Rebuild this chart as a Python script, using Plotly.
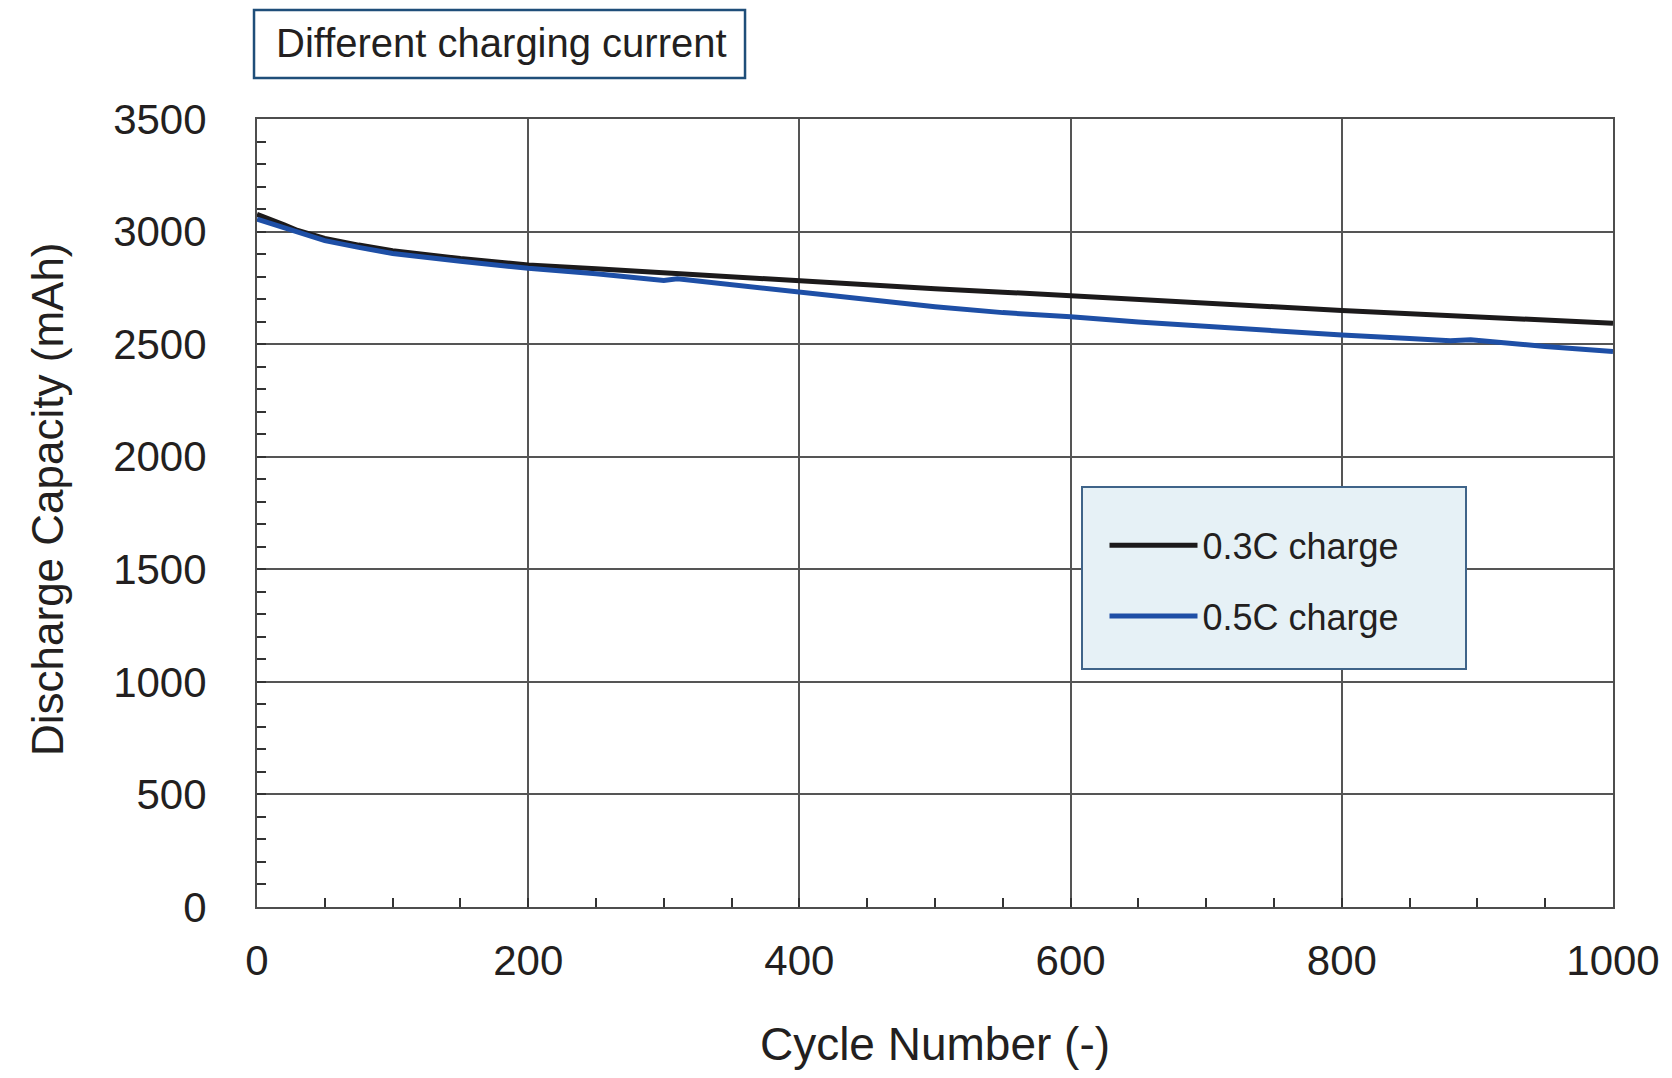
import plotly.graph_objects as go

cycles_03 = [0, 10, 20, 30, 50, 75, 100, 150, 200, 250, 300, 350, 400, 450, 500,
             550, 600, 650, 700, 750, 800, 850, 900, 950, 1000]
cap_03 = [3077, 3055, 3030, 3005, 2970, 2940, 2915, 2880, 2852, 2835, 2817, 2797, 2778,
          2762, 2746, 2731, 2716, 2700, 2683, 2666, 2649, 2634, 2619, 2606, 2593]

cycles_05 = [0, 10, 20, 30, 50, 75, 100, 150, 200, 250, 290, 300, 310, 350, 400, 450,
             500, 550, 600, 650, 700, 750, 800, 850, 880, 895, 920, 950, 1000]
cap_05 = [3055, 3035, 3015, 2995, 2960, 2930, 2903, 2868, 2837, 2813, 2790, 2783, 2790,
          2763, 2733, 2700, 2666, 2640, 2622, 2598, 2578, 2560, 2541, 2525, 2515, 2519,
          2505, 2490, 2467]

series_names = ["0.3C charge", "0.5C charge"]
x_ticks = [0, 200, 400, 600, 800, 1000]
y_ticks = [0, 500, 1000, 1500, 2000, 2500, 3000, 3500]

SANS = "Liberation Sans, Arial, sans-serif"
TEXT = "#231f20"
TICKFONT = dict(family=SANS, size=42, color=TEXT)

fig = go.Figure()
fig.add_trace(go.Scatter(x=cycles_03, y=cap_03, mode="lines", name=series_names[0],
                         legendgroup="a", line=dict(color="#1c1a1b", width=5)))
fig.add_trace(go.Scatter(x=cycles_05, y=cap_05, mode="lines", name=series_names[1],
                         legendgroup="b", line=dict(color="#1e4fa6", width=5)))

fig.update_layout(
    width=1664, height=1070,
    margin=dict(l=249, r=59, t=111, b=171),
    paper_bgcolor="white", plot_bgcolor="white",
    showlegend=True,
    legend=dict(
        x=0.625, y=0.497, xanchor="left", yanchor="top",
        bgcolor="rgba(0,0,0,0)", borderwidth=0,
        font=dict(family=SANS, size=36, color=TEXT),
        itemwidth=88, tracegroupgap=21,
    ),
    xaxis=dict(
        range=[0, 1000], tickvals=x_ticks, ticktext=[str(v) for v in x_ticks],
        showgrid=True, gridcolor="#555555", gridwidth=1.5,
        showline=True, linecolor="#4d4d4d", linewidth=2, mirror=True,
        ticks="inside", ticklen=9, tickwidth=2, tickcolor="#333333",
        minor=dict(dtick=50, ticks="inside", ticklen=9, tickwidth=2, tickcolor="#333333", showgrid=False),
        tickfont=TICKFONT, ticklabelstandoff=16,
        zeroline=False, automargin=False,
        title=dict(text="Cycle Number (-)", font=dict(family=SANS, size=46, color=TEXT), standoff=44),
    ),
    yaxis=dict(
        range=[0, 3500], tickvals=y_ticks, ticktext=[str(v) for v in y_ticks],
        showgrid=True, gridcolor="#555555", gridwidth=1.5,
        showline=True, linecolor="#4d4d4d", linewidth=2, mirror=True,
        ticks="inside", ticklen=9, tickwidth=2, tickcolor="#333333",
        minor=dict(dtick=100, ticks="inside", ticklen=9, tickwidth=2, tickcolor="#333333", showgrid=False),
        tickfont=TICKFONT, ticklabelstandoff=40,
        zeroline=False, automargin=False,
    ),
)

# Y axis title
fig.add_annotation(xref="paper", yref="paper", x=-0.154, y=0.518,
                   xanchor="center", yanchor="middle", showarrow=False, textangle=-90,
                   text="Discharge Capacity (mAh)",
                   font=dict(family=SANS, size=44, color=TEXT))

# Legend box background
fig.add_shape(type="rect", xref="paper", yref="paper", layer="above",
              x0=(1082 - 257) / 1356, x1=(1466 - 257) / 1356,
              y0=(907 - 669) / 788, y1=(907 - 487) / 788,
              line=dict(color="#3f6489", width=2), fillcolor="#e6f1f6")

# Title box
fig.add_shape(type="rect", xref="paper", yref="paper",
              x0=-0.0022, x1=0.3599, y0=1.052, y1=(907 - 10) / 788,
              line=dict(color="#1f4e79", width=2.5), fillcolor="white")
fig.add_annotation(xref="paper", yref="paper", x=0.0125, y=(907 - 43) / 788,
                   xanchor="left", yanchor="middle", showarrow=False,
                   text="Different charging current",
                   font=dict(family=SANS, size=40, color=TEXT))

fig.write_html("out.html")
